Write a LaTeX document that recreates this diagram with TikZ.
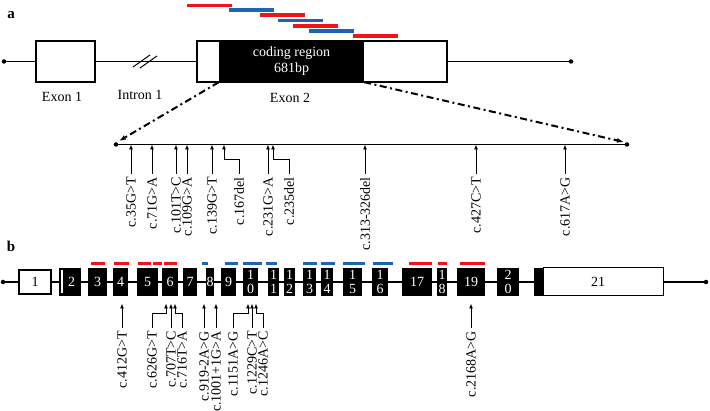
\documentclass[tikz,border=0pt]{standalone}
\usepackage{fontspec}
\setmainfont{Liberation Serif}
\usetikzlibrary{arrows.meta,calc}
\definecolor{barred}{RGB}{240,20,25}
\definecolor{barblue}{RGB}{30,100,180}
\begin{document}
\begin{tikzpicture}[x=1pt,y=-1pt,
  lbl/.style={font=\fontsize{14}{16}\selectfont, inner sep=0pt},
  panel/.style={font=\bfseries\fontsize{15}{15}\selectfont, inner sep=0pt},
  mut/.style={font=\fontsize{14}{16}\selectfont, rotate=90, anchor=east, inner sep=3pt},
  dot/.style={circle, fill=black, inner sep=0pt, minimum size=4.5pt},
  axis/.style={line width=1.4pt},
  arr/.style={-{Latex[length=5pt,width=4pt]}, line width=0.9pt},
  ddash/.style={line width=2pt, dash pattern=on 7pt off 3.5pt on 2pt off 3.5pt, -{Latex[length=7pt,width=5pt]}},
  wbox/.style={draw=black, fill=white, line width=1.2pt, inner sep=0pt},
  bex/.style={fill=black, inner sep=0pt, minimum height=28pt, text=white, font=\fontsize{14}{14}\selectfont, align=center},
  rbar/.style={draw=barred, line width=3.5pt},
  bbar/.style={draw=barblue, line width=3.5pt},
]
\useasboundingbox (0,0) rectangle (710,411);

% ---------------- panel a ----------------
\node[panel] (la) at (11,15) {a};

\draw[rbar] (187,5.5) -- (232,5.5);
\draw[bbar] (229,10) -- (274,10);
\draw[rbar] (260,15) -- (305,15);
\draw[bbar] (278,20.5) -- (323,20.5);
\draw[rbar] (293,26) -- (338,26);
\draw[bbar] (309,31) -- (354,31);
\draw[rbar] (353,36) -- (398,36);

\node[dot] (a0) at (4,61.5) {};
\node[wbox, minimum width=59pt, minimum height=41pt] (ex1) at (65.5,61.5) {};
\node[wbox, minimum width=250pt, minimum height=41pt] (ex2) at (322,61.5) {};
\node[fill=black, inner sep=0pt, minimum width=145pt, minimum height=41pt, text=white,
      align=center, font=\fontsize{14}{16}\selectfont] (cod) at (291.5,61.5) {coding region\\681bp};
\node[dot] (a1) at (571,61.5) {};
\draw[axis] (a0) -- (ex1.west);
\draw[axis] (ex1.east) -- (ex2.west);
\draw[axis] (ex2.east) -- (a1);
\draw[line width=1pt] (133,67) -- (150,55);
\draw[line width=1pt] (140,68) -- (157,56);

\node[lbl] (tE1) at (62,97) {Exon 1};
\node[lbl] (tI1) at (140,95) {Intron 1};
\node[lbl] (tE2) at (290,98) {Exon 2};

\coordinate (zl) at (119,141);
\coordinate (zr) at (624,142);
\draw[ddash] (cod.south west) -- (zl);
\draw[ddash] (cod.south east) -- (zr);

\node[dot] (z0) at (116,144.5) {};
\node[dot] (z1) at (627,144.5) {};
\draw[axis] (z0) -- (z1);

% mutations a
\coordinate (ta1) at (131,144.5);  \node[mut] (ma1) at (131,174) {c.35G>T};
\coordinate (ta2) at (152,144.5);  \node[mut] (ma2) at (152,174) {c.71G>A};
\coordinate (ta3) at (176,144.5);  \node[mut] (ma3) at (176,174) {c.101T>C};
\coordinate (ta4) at (187,144.5);  \node[mut] (ma4) at (187,174) {c.109G>A};
\coordinate (ta5) at (212,144.5);  \node[mut] (ma5) at (212,174) {c.139G>T};
\coordinate (ta6) at (224,144.5);  \node[mut] (ma6) at (239,174) {c.167del};
\coordinate (ta7) at (268,144.5);  \node[mut] (ma7) at (268,174) {c.231G>A};
\coordinate (ta8) at (273,144.5);  \node[mut] (ma8) at (289,174) {c.235del};
\coordinate (ta9) at (365,144.5);  \node[mut] (ma9) at (365,174) {c.313-326del};
\coordinate (ta10) at (476,144.5); \node[mut] (ma10) at (476,174) {c.427C>T};
\coordinate (ta11) at (565,144.5); \node[mut] (ma11) at (565,174) {c.617A>G};
\coordinate (ea6) at (239,159);
\coordinate (ea8) at (289,159);

\draw[arr] (ma1.east) -- (ta1);
\draw[arr] (ma2.east) -- (ta2);
\draw[arr] (ma3.east) -- (ta3);
\draw[arr] (ma4.east) -- (ta4);
\draw[arr] (ma5.east) -- (ta5);
\draw[arr] (ma6.east) -- (ea6) -| (ta6);
\draw[arr] (ma7.east) -- (ta7);
\draw[arr] (ma8.east) -- (ea8) -| (ta8);
\draw[arr] (ma9.east) -- (ta9);
\draw[arr] (ma10.east) -- (ta10);
\draw[arr] (ma11.east) -- (ta11);

% ---------------- panel b ----------------
\node[panel] (lb) at (11,246) {b};

\draw[rbar] (91,263.5) -- (105,263.5);
\draw[rbar] (114,263.5) -- (129,263.5);
\draw[rbar] (138,263.5) -- (151,263.5);
\draw[rbar] (153,263.5) -- (162,263.5);
\draw[rbar] (164,263.5) -- (177,263.5);
\draw[bbar] (202,263.5) -- (208,263.5);
\draw[bbar] (225,263.5) -- (238,263.5);
\draw[bbar] (243,263.5) -- (262,263.5);
\draw[bbar] (266,263.5) -- (277,263.5);
\draw[bbar] (303,263.5) -- (317,263.5);
\draw[bbar] (321,263.5) -- (335,263.5);
\draw[bbar] (343,263.5) -- (365,263.5);
\draw[bbar] (373,263.5) -- (393,263.5);
\draw[rbar] (409,263.5) -- (432,263.5);
\draw[rbar] (438,263.5) -- (447,263.5);
\draw[rbar] (460,263.5) -- (485,263.5);

\node[dot] (b0) at (3,282) {};
\node[dot] (b1) at (706,282) {};
\draw[axis] (b0) -- (b1);

\node[wbox, minimum width=32pt, minimum height=24pt, font=\fontsize{14}{14}\selectfont] (x1) at (35,282) {1};
\node[bex, minimum width=22pt] (x2) at (70,282) {\hspace*{3pt}2};
\fill[white] (60.6,270.5) rectangle (62.6,293.5);
\node[bex, minimum width=19pt] (x3) at (97.5,282) {3};
\node[bex, minimum width=15pt] (x4) at (120.5,282) {4};
\node[bex, minimum width=21pt] (x5) at (147.5,282) {5};
\node[bex, minimum width=16pt] (x6) at (170,282) {6};
\node[bex, minimum width=14pt] (x7) at (190,282) {7};
\node[bex, minimum width=8pt] (x8) at (210,282) {8};
\node[bex, minimum width=15pt] (x9) at (228.5,282) {9};
\node[bex, minimum width=15pt] (x10) at (250.5,282) {1\\0};
\node[bex, minimum width=11pt] (x11) at (273.5,282) {1\\1};
\node[bex, minimum width=11pt] (x12) at (289.5,282) {1\\2};
\node[bex, minimum width=13pt] (x13) at (309.5,282) {1\\3};
\node[bex, minimum width=12pt] (x14) at (327,282) {1\\4};
\node[bex, minimum width=19pt] (x15) at (352.5,282) {1\\5};
\node[bex, minimum width=16pt] (x16) at (380,282) {1\\6};
\node[bex, minimum width=30pt] (x17) at (417,282) {17};
\node[bex, minimum width=10pt] (x18) at (442,282) {1\\8};
\node[bex, minimum width=28pt] (x19) at (471,282) {19};
\node[bex, minimum width=22pt] (x20) at (508,282) {2\\0};
\node[bex, minimum width=9pt] (x21a) at (538.5,282) {};
\node[wbox, line width=1pt, minimum width=120pt, minimum height=28pt] (x21) at (603,282) {};
\node[lbl] (t21) at (598,282) {21};

% mutations b
\coordinate (tb1) at (122,303.5);  \node[mut] (mb1) at (122,328) {c.412G>T};
\coordinate (tb2) at (166,303.5);  \node[mut] (mb2) at (152,328) {c.626G>T};
\coordinate (tb3) at (171,303.5);  \node[mut] (mb3) at (171,328) {c.707T>C};
\coordinate (tb4) at (175,303.5);  \node[mut] (mb4) at (182,328) {c.716T>A};
\coordinate (tb5) at (204,303.5);  \node[mut] (mb5) at (204,328) {c.919-2A>G};
\coordinate (tb6) at (216,303.5);  \node[mut] (mb6) at (216,328) {c.1001+1G>A};
\coordinate (tb7) at (248,303.5);  \node[mut] (mb7) at (233,328) {c.1151A>G};
\coordinate (tb8) at (252,303.5);  \node[mut] (mb8) at (252,328) {c.1229C>T};
\coordinate (tb9) at (256,303.5);  \node[mut] (mb9) at (263,328) {c.1246A>C};
\coordinate (tb10) at (471,303.5); \node[mut] (mb10) at (471,328) {c.2168A>G};
\coordinate (eb2) at (152,313);
\coordinate (eb4) at (182,313);
\coordinate (eb7) at (233,313);
\coordinate (eb9) at (263,313);

\draw[arr] (mb1.east) -- (tb1);
\draw[arr] (mb2.east) -- (eb2) -| (tb2);
\draw[arr] (mb3.east) -- (tb3);
\draw[arr] (mb4.east) -- (eb4) -| (tb4);
\draw[arr] (mb5.east) -- (tb5);
\draw[arr] (mb6.east) -- (tb6);
\draw[arr] (mb7.east) -- (eb7) -| (tb7);
\draw[arr] (mb8.east) -- (tb8);
\draw[arr] (mb9.east) -- (eb9) -| (tb9);
\draw[arr] (mb10.east) -- (tb10);
\end{tikzpicture}
\end{document}
